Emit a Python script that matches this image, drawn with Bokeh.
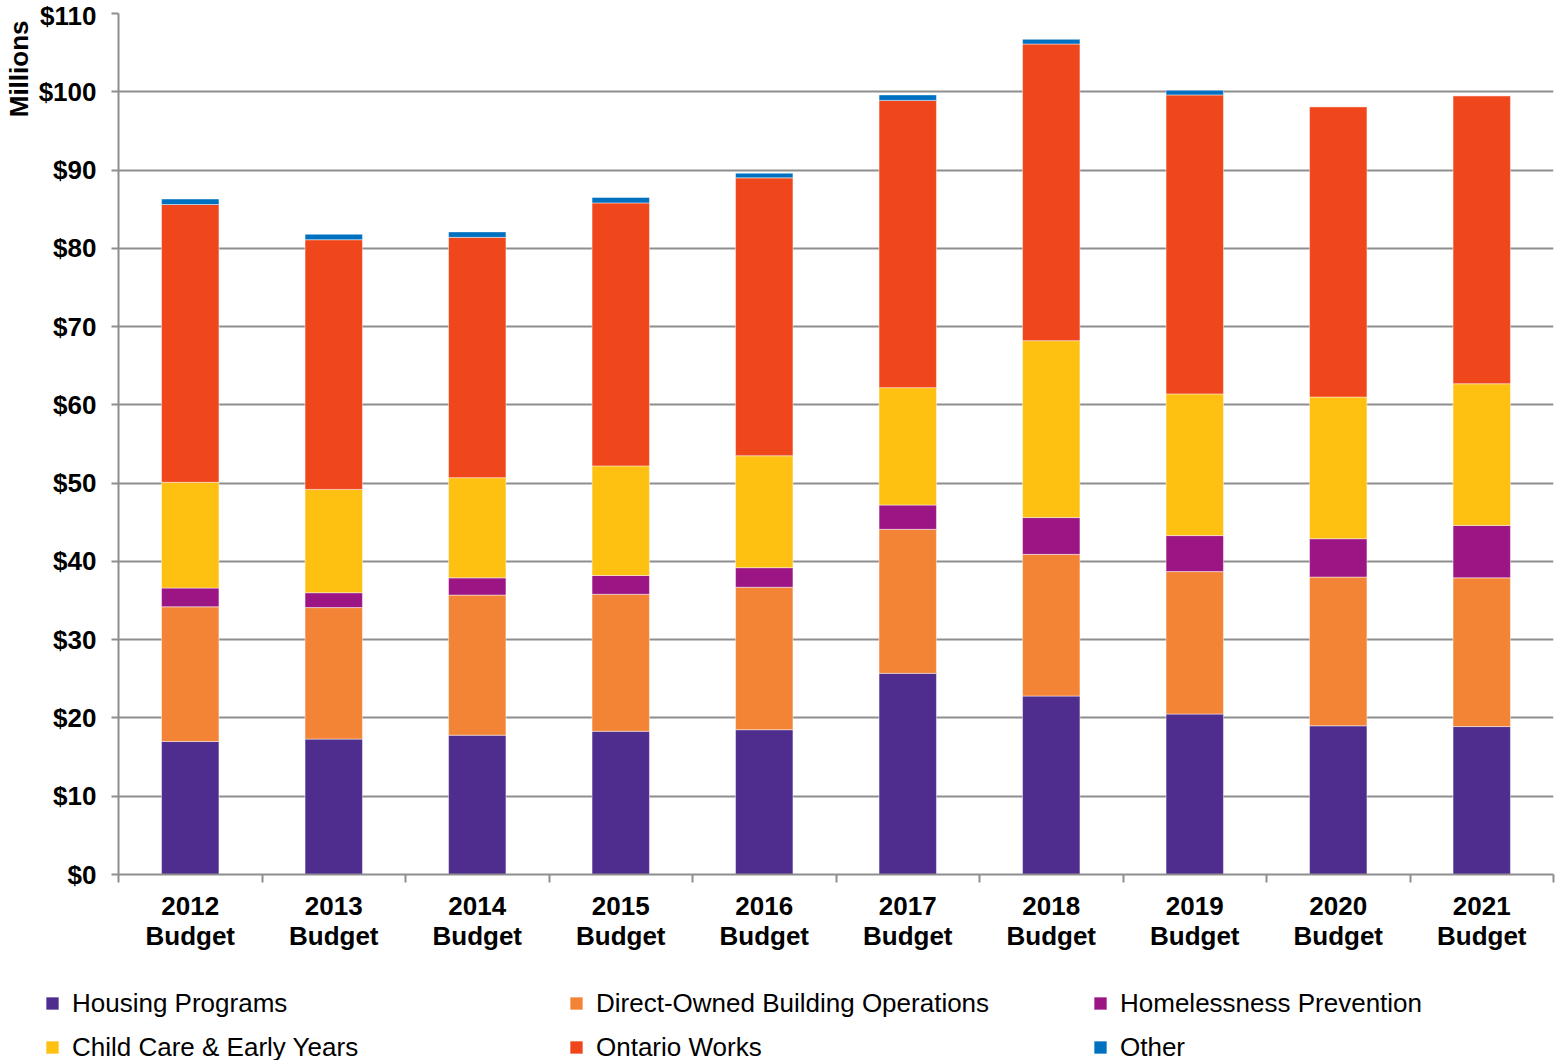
from bokeh.embed import file_html
from bokeh.layouts import column
from bokeh.models import (ColumnDataSource, CustomJSTickFormatter, FixedTicker, Legend,
                          LegendItem, PrintfTickFormatter, Range1d, SingleIntervalTicker,
                          Title)
from bokeh.plotting import figure
from bokeh.resources import INLINE

# Budget years (category labels on the x axis)
years = ["2012\nBudget", "2013\nBudget", "2014\nBudget", "2015\nBudget", "2016\nBudget",
         "2017\nBudget", "2018\nBudget", "2019\nBudget", "2020\nBudget", "2021\nBudget"]

# Spending by program, $ millions
housing_programs = [17.0, 17.3, 17.8, 18.3, 18.5, 25.7, 22.8, 20.5, 19.0, 18.9]
direct_owned_ops = [17.2, 16.8, 17.9, 17.5, 18.2, 18.4, 18.1, 18.2, 19.0, 19.0]
homelessness_prev = [2.4, 1.9, 2.2, 2.4, 2.5, 3.1, 4.7, 4.6, 4.9, 6.7]
child_care = [13.5, 13.2, 12.8, 14.0, 14.3, 15.0, 22.6, 18.1, 18.1, 18.1]
ontario_works = [35.5, 31.9, 30.7, 33.6, 35.5, 36.7, 37.9, 38.2, 37.1, 36.8]
other = [0.7, 0.7, 0.7, 0.7, 0.6, 0.7, 0.6, 0.6, 0.0, 0.0]

series_names = ["Housing Programs", "Direct-Owned Building Operations", "Homelessness Prevention",
                "Child Care & Early Years", "Ontario Works", "Other"]
series_keys = ["housing", "direct", "homeless", "child", "ow", "other"]
series_colors = ["#4e2d8e", "#f48435", "#9b1585", "#fec011", "#ef461b", "#0071c1"]

FONT = "Liberation Sans"
GRID = "#8e8e8e"

n = len(years)
# each budget year occupies one unit slot; bars sit in the middle of their slot
slot_centers = [i + 0.5 for i in range(n)]
slot_edges = list(range(n + 1))

source = ColumnDataSource(dict(x=slot_centers, housing=housing_programs, direct=direct_owned_ops,
                               homeless=homelessness_prev, child=child_care,
                               ow=ontario_works, other=other))

bar_style = dict(width=0.4, fill_color=series_colors, line_color="white",
                 line_alpha=0.45, line_width=1)

# ---- main chart ----
p = figure(
    x_range=Range1d(0, n),
    y_range=Range1d(0, 110),
    width=1556, height=960,
    output_backend="svg", toolbar_location=None,
    min_border_left=118, min_border_right=3, min_border_top=13, min_border_bottom=86,
)
p.frame_align = False
p.outline_line_color = None
p.background_fill_color = "white"
p.border_fill_color = "white"

p.vbar_stack(series_keys, x="x", source=source, **bar_style)

# y axis: dollar ticks every $10M
yaxis = p.yaxis[0]
yaxis.ticker = SingleIntervalTicker(interval=10, num_minor_ticks=0)
yaxis.formatter = PrintfTickFormatter(format="$%d")
yaxis.axis_line_color = GRID
yaxis.axis_line_width = 2
yaxis.major_tick_line_color = GRID
yaxis.major_tick_line_width = 2
yaxis.major_tick_out = 7
yaxis.major_tick_in = 0
yaxis.minor_tick_line_color = None
yaxis.major_label_standoff = 15
yaxis.major_label_text_font = FONT
yaxis.major_label_text_font_style = "bold"
yaxis.major_label_text_font_size = "26px"
yaxis.major_label_text_color = "black"

# x axis: labels at slot centres, tick marks at slot boundaries
xaxis = p.xaxis[0]
xaxis.ticker = FixedTicker(ticks=slot_centers, minor_ticks=slot_edges)
xaxis.formatter = CustomJSTickFormatter(args=dict(labels=years),
                                        code="return labels[Math.round(tick - 0.5)]")
xaxis.axis_line_color = GRID
xaxis.axis_line_width = 2
xaxis.major_tick_line_color = None
xaxis.major_tick_out = 0
xaxis.major_tick_in = 0
xaxis.minor_tick_line_color = GRID
xaxis.minor_tick_line_width = 2
xaxis.minor_tick_out = 8
xaxis.minor_tick_in = 0
xaxis.major_label_standoff = 8
xaxis.major_label_text_font = FONT
xaxis.major_label_text_font_style = "bold"
xaxis.major_label_text_font_size = "26px"
xaxis.major_label_text_color = "black"
xaxis.major_label_text_line_height = 1.03

p.ygrid.grid_line_color = GRID
p.ygrid.grid_line_width = 2
p.xgrid.visible = False

# units label, set against the top end of the y axis
p.add_layout(Title(text="Millions", align="right", offset=7, standoff=3,
                   text_font=FONT, text_font_style="bold",
                   text_font_size="26px", text_color="black"), "left")

# ---- legend strip under the chart ----
lg = figure(
    x_range=Range1d(0, 1), y_range=Range1d(0, 1),
    width=1556, height=100,
    output_backend="svg", toolbar_location=None,
    x_axis_location=None, y_axis_location=None,
    min_border_left=0, min_border_right=0, min_border_top=0, min_border_bottom=0,
)
lg.frame_align = False
lg.outline_line_color = None
lg.grid.visible = False
lg.background_fill_color = "white"
lg.border_fill_color = "white"

key_renderers = lg.vbar_stack(series_keys, x="x", source=source, visible=False, **bar_style)

items = [LegendItem(label=s, renderers=[r]) for s, r in zip(series_names, key_renderers)]
legend = Legend(
    items=items, location=(44, -9), orientation="horizontal", ncols=3,
    glyph_width=16, glyph_height=16, label_standoff=12,
    label_width=496, label_height=44, spacing=0,
    padding=0, margin=0,
    border_line_color=None, background_fill_alpha=0,
    label_text_font=FONT, label_text_font_size="26px", label_text_color="black",
)
lg.add_layout(legend)

layout = column(p, lg, spacing=0)
open("out.html", "w").write(file_html(layout, INLINE))
